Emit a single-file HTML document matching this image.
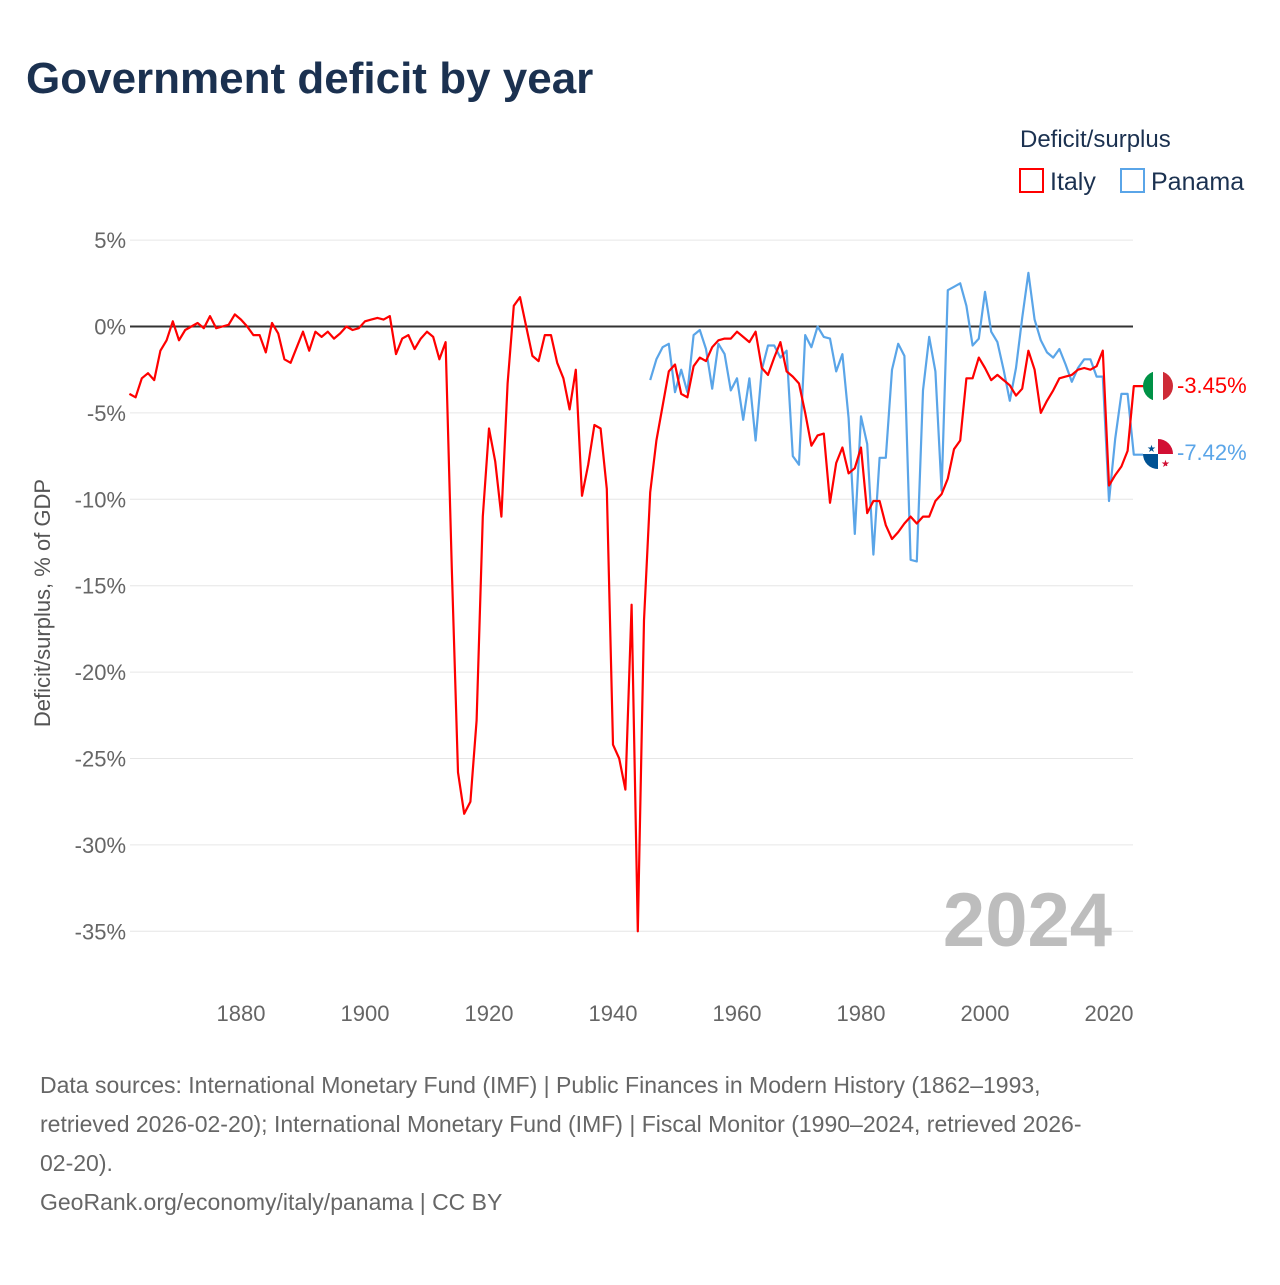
<!DOCTYPE html>
<html><head><meta charset="utf-8"><style>
body{margin:0;background:#fff;width:1280px;height:1280px;overflow:hidden;font-family:"Liberation Sans",sans-serif}
svg text{font-family:"Liberation Sans",sans-serif}
</style></head><body>
<svg id="chart" width="1280" height="1280" viewBox="0 0 1280 1280" xmlns="http://www.w3.org/2000/svg">
<text x="26" y="93" font-size="44" font-weight="bold" fill="#1b3150">Government deficit by year</text>
<text x="1020" y="147" font-size="24" fill="#1b3150">Deficit/surplus</text>
<g><rect x="1020" y="169" width="23" height="23" fill="none" stroke="#ff0000" stroke-width="2"/><text x="1050" y="190" font-size="25" fill="#1b3150">Italy</text></g>
<g><rect x="1121" y="169" width="23" height="23" fill="none" stroke="#5aa5e8" stroke-width="2"/><text x="1151" y="190" font-size="25" fill="#1b3150">Panama</text></g>
<text transform="translate(50,603) rotate(-90)" text-anchor="middle" font-size="22" fill="#555">Deficit/surplus, % of GDP</text>
<g id="grid"></g>
<text x="1112" y="946" text-anchor="end" font-size="76" font-weight="bold" fill="#bdbdbd">2024</text>
<g id="series"></g>
<g>
<clipPath id="c1"><circle cx="1158" cy="386" r="15"/></clipPath>
<g clip-path="url(#c1)"><rect x="1143" y="371" width="10" height="30" fill="#009246"/><rect x="1153" y="371" width="10" height="30" fill="#fff"/><rect x="1163" y="371" width="10" height="30" fill="#ce2b37"/></g>
<text x="1177" y="393" font-size="22" fill="#ff0000">-3.45%</text></g>
<g>
<clipPath id="c2"><circle cx="1158" cy="454" r="15"/></clipPath>
<g clip-path="url(#c2)"><rect x="1143" y="439" width="30" height="30" fill="#fff"/><rect x="1158" y="439" width="15" height="15" fill="#d21034"/><rect x="1143" y="454" width="15" height="15" fill="#005293"/><text x="1147" y="452" font-size="10" fill="#005293">★</text><text x="1161" y="467" font-size="10" fill="#d21034">★</text></g>
<text x="1177" y="460" font-size="22" fill="#5aa5e8">-7.42%</text></g>
<text font-size="23" fill="#666">
<tspan x="40" y="1093">Data sources: International Monetary Fund (IMF) | Public Finances in Modern History (1862–1993,</tspan>
<tspan x="40" y="1132">retrieved 2026-02-20); International Monetary Fund (IMF) | Fiscal Monitor (1990–2024, retrieved 2026-</tspan>
<tspan x="40" y="1171">02-20).</tspan>
<tspan x="40" y="1210">GeoRank.org/economy/italy/panama | CC BY</tspan></text>
</svg>
<script>
const yTicks=[5,0,-5,-10,-15,-20,-25,-30,-35];
const xTicks=[1880,1900,1920,1940,1960,1980,2000,2020];
const italyStart=1862;
const italyValues=[-3.9,-4.1,-3.0,-2.7,-3.1,-1.4,-0.8,0.3,-0.8,-0.2,0,0.2,-0.1,0.6,-0.1,0,0.1,0.7,0.4,0,-0.5,-0.5,-1.5,0.2,-0.4,-1.9,-2.1,-1.2,-0.3,-1.4,-0.3,-0.6,-0.3,-0.7,-0.4,0,-0.2,-0.1,0.3,0.4,0.5,0.4,0.6,-1.6,-0.7,-0.5,-1.3,-0.7,-0.3,-0.6,-1.9,-0.9,-14,-25.8,-28.2,-27.5,-22.8,-11,-5.9,-7.8,-11,-3.3,1.2,1.7,0,-1.7,-2.0,-0.5,-0.5,-2.1,-3.0,-4.8,-2.5,-9.8,-8.0,-5.7,-5.9,-9.4,-24.2,-25.0,-26.8,-16.1,-35,-17,
-9.6,-6.6,-4.6,-2.6,-2.2,-3.9,-4.1,-2.3,-1.8,-2.0,
-1.2,-0.8,-0.7,-0.7,-0.3,-0.6,-0.9,-0.3,-2.4,-2.8,
-1.8,-0.9,-2.6,-2.9,-3.3,-5.0,-6.9,-6.3,-6.2,-10.2,
-7.9,-7.0,-8.5,-8.2,-7.0,-10.8,-10.1,-10.1,-11.5,-12.3,
-11.9,-11.4,-11.0,-11.4,-11.0,-11.0,-10.1,-9.7,-8.8,-7.1,
-6.6,-3.0,-3.0,-1.8,-2.4,-3.1,-2.8,-3.1,-3.4,-4.0,
-3.6,-1.4,-2.5,-5.0,-4.3,-3.7,-3.0,-2.9,-2.8,-2.5,
-2.4,-2.5,-2.3,-1.4,-9.2,-8.6,-8.1,-7.2,-3.45];
const panamaStart=1946;
const panamaValues=[-3.1,-1.9,-1.2,-1.0,-3.8,-2.5,-3.8,-0.5,-0.2,-1.3,-3.6,-1.0,-1.6,-3.7,-3.0,-5.4,-3.0,-6.6,-2.5,-1.1,-1.1,-1.8,-1.4,-7.5,-8.0,-0.5,-1.2,0,-0.6,-0.7,-2.6,-1.6,-5.3,-12.0,-5.2,-6.8,-13.2,-7.6,-7.6,-2.5,-1.0,-1.7,-13.5,-13.6,-3.7,-0.6,-2.6,-9.5,2.1,2.3,2.5,1.2,-1.1,-0.7,2.0,-0.3,-0.9,-2.5,-4.3,-2.4,0.5,3.1,0.4,-0.8,-1.5,-1.8,-1.3,-2.2,-3.2,-2.4,-1.9,-1.9,-2.9,-2.9,-10.1,-6.5,-3.9,-3.9,-7.42];
const NS='http://www.w3.org/2000/svg';
const X=yr=>129.4+(yr-1862)*6.2;
const Y=v=>326.5-v*17.28;
const grid=document.getElementById('grid');
function mk(tag,attrs,parent){const e=document.createElementNS(NS,tag);for(const k in attrs)e.setAttribute(k,attrs[k]);parent.appendChild(e);return e;}
yTicks.forEach(t=>{
  const l=mk('line',{x1:130,x2:1133,y1:Y(t),y2:Y(t),stroke:t===0?'#333':'#e6e6e6','stroke-width':t===0?2:1},grid);
  
  
  const tx=mk('text',{x:126,y:Y(t)+8,'text-anchor':'end','font-size':22,fill:'#666'},grid);
  tx.textContent=t+'%';
  
  
});
xTicks.forEach(t=>{
  const tx=mk('text',{x:X(t),y:1021,'text-anchor':'middle','font-size':22,fill:'#666'},grid);
  tx.textContent=t;
  
  
});
const series=document.getElementById('series');
function line(start,vals,color,name){
  const pts=vals.map((v,i)=>X(start+i).toFixed(1)+','+Y(v).toFixed(1));
  const last=vals[vals.length-1];
  pts.push('1145,'+Y(last).toFixed(1));
  const p=mk('polyline',{points:pts.join(' '),fill:'none',stroke:color,'stroke-width':2.2,'stroke-linejoin':'round'},series);
  
  
}
line(panamaStart,panamaValues,'#5aa5e8','panama-line');
line(italyStart,italyValues,'#ff0000','italy-line');
</script>
</body></html>
